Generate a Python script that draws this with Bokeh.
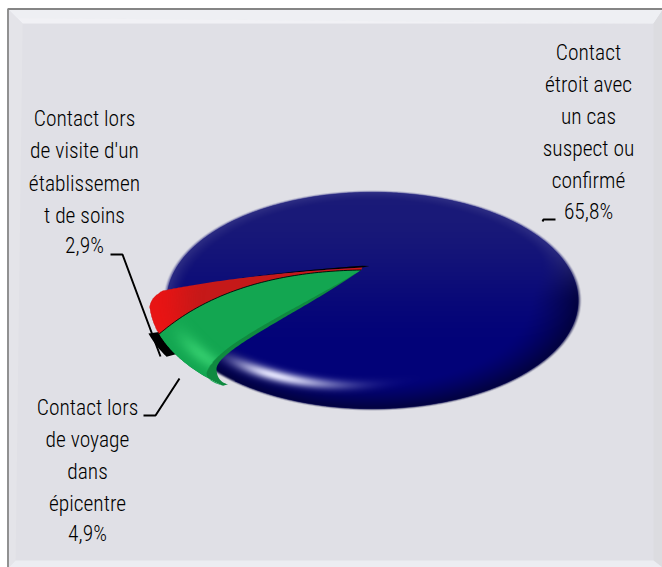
import numpy as np
from bokeh.plotting import figure
from bokeh.models import Range1d
from bokeh.core.properties import value
from bokeh.embed import file_html
from bokeh.resources import INLINE

# ---- data ----
label_close = ["Contact", "étroit avec", "un cas", "suspect ou", "confirmé"]
label_visit = ["Contact lors", "de visite d'un", "établissemen", "t de soins"]
label_travel = ["Contact lors", "de voyage", "dans", "épicentre"]
pct_close, pct_visit, pct_travel = 65.8, 2.9, 4.9
# apparent shares of the rim, as drawn in the distorted 3D view (percent)
rim_share_red = 6.1
rim_share_green = 8.6
rim_share_black = 2.9

PAGE_W, PAGE_H = 662, 567
FONT = "Roboto Condensed Light"
FS = "21.5px"


def Y(y):
    return PAGE_H - np.asarray(y, dtype=float)


p = figure(width=PAGE_W, height=PAGE_H, output_backend="svg", toolbar_location=None,
           x_range=Range1d(0, PAGE_W), y_range=Range1d(0, PAGE_H), min_border=0,
           background_fill_color="#ffffff", border_fill_color="#ffffff")
p.axis.visible = False
p.grid.visible = False
p.outline_line_color = None


def poly(pts, **kw):
    pts = np.asarray(pts, dtype=float)
    p.patch(pts[:, 0], Y(pts[:, 1]), line_color=kw.pop("line_color", None), **kw)


def line(pts, **kw):
    pts = np.asarray(pts, dtype=float)
    p.line(pts[:, 0], Y(pts[:, 1]), **kw)


# ---- chart frame with bevel ----
L, T, R, B = 8.5, 9.5, 662, 567
poly([(L, T), (R, T), (R, B), (L, B)], fill_color="#e0e0e6")
poly([(L, T), (R, T), (653, 23), (22, 23)], fill_color="#f1f1f5")
poly([(L, T), (L + 5, T + 8), (653, 23), (R, T)], fill_color="#ecedf1", fill_alpha=0.5)
poly([(L, T), (22, 23), (15, 560), (L, B)], fill_color="#e4e4e9")
poly([(R, T), (653, 23), (653, 560), (R, B)], fill_color="#dcdce0")
poly([(L, B), (15, 560), (653, 560), (R, B)], fill_color="#ecedf2")
line([(7.5, B), (7.5, 8.5), (R, 8.5)], line_color="#858585", line_width=1.8)

# ---- pie geometry ----
CX, CY = 372.0, 300.0
BA, BB = 209.0, 110.0      # blue disc
EA, EB = 223.0, 115.0      # exploded rim
APEX = np.array([362.0, 267.0])
T_START = 185.0
T_RG = T_START - rim_share_red * 3.6
T_END = T_RG - rim_share_green * 3.6
T_BLK = T_RG - rim_share_black * 3.6


def rim(t, s=1.0):
    t = np.atleast_1d(np.asarray(t, dtype=float))
    q = s * (1 - 0.055 * (np.clip(t - 176, 0, None) / 9) ** 2)
    r = np.radians(t)
    return np.column_stack([CX + q * EA * np.cos(r), CY + q * EB * np.sin(r)])


def quad(a, c, b, n=60):
    u = np.linspace(0, 1, n)[:, None]
    a, b, c = map(np.asarray, (a, b, c))
    return (1 - u) ** 2 * a + 2 * u * (1 - u) * c + u ** 2 * b


def cubic(a, c1, c2, b, n=80):
    u = np.linspace(0, 1, n)[:, None]
    a, b, c1, c2 = map(np.asarray, (a, b, c1, c2))
    return (1 - u) ** 3 * a + 3 * u * (1 - u) ** 2 * c1 + 3 * u ** 2 * (1 - u) * c2 + u ** 3 * b


red_top = quad(APEX, APEX + (-122, 7), rim(T_START)[0])
gr_apex = APEX + (-1.5, 2.5)
rg_edge = quad(gr_apex, gr_apex + (-130, 2), rim(T_RG)[0])

# blue slice: the long way around
ts = np.linspace(T_END, T_START - 360, 400)
ra = np.radians(ts)
blue_rim = np.column_stack([CX + 0.985 * BA * np.cos(ra), CY + 0.985 * BB * np.sin(ra)])
poly(np.vstack([APEX[None], blue_rim]), fill_color="#10107a")

# blue shading (per pixel)
x0, x1, y0, y1 = 140, 600, 180, 425
xs = np.arange(x0, x1) + 0.5
ys = np.arange(y1 - 1, y0 - 1, -1) + 0.5
GX, GY = np.meshgrid(xs, ys)
U, V = (GX - CX) / BA, (GY - CY) / BB
RR = np.hypot(U, V)
TH = np.degrees(np.arctan2(V, U)) % 360


def sstep(a, b, v):
    w = np.clip((v - a) / (b - a), 0, 1)
    return w * w * (3 - 2 * w)


vv = np.clip((GY - 205) / 150, 0, 1)
w0 = sstep(0, 1, vv)
centre = [26 + (2 - 26) * w0, 26 + (2 - 26) * w0, 120 + (120 - 120) * w0]
sy = V / np.maximum(RR, 1e-6)
w1 = sstep(-0.35, 0.3, sy + 0.25 * U / np.maximum(RR, 1e-6))
edge = [52 + (2 - 52) * w1, 52 + (2 - 52) * w1, 135 + (58 - 135) * w1]
# the edge band is thin along the top and wide along the bottom
e_start = 0.91 - 0.15 * w1
ee = np.clip((RR - e_start) / (1.0 - e_start), 0, 1) ** 1.3
col = [c + (d - c) * ee for c, d in zip(centre, edge)]
r0 = 0.80 + (TH - 110) * 0.0018
ang = np.where(TH > 125, np.exp(-((TH - 125) / 15) ** 2), np.exp(-((TH - 125) / 23) ** 2))
hl = 0.97 * np.exp(-((RR - r0) / 0.05) ** 2) * ang
col = [c + (w - c) * hl for c, w in zip(col, (230, 230, 255))]
alpha = np.clip((1 - RR) * BB / 2.2, 0, 1)


def to_rgba(cols, a):
    out = np.zeros(a.shape + (4,), dtype=np.uint8)
    for i in range(3):
        out[..., i] = np.clip(cols[i], 0, 255).astype(np.uint8)
    out[..., 3] = np.clip(a * 255, 0, 255).astype(np.uint8)
    return out.view(dtype=np.uint32).reshape(a.shape)


p.image_rgba(image=[to_rgba(col, alpha)], x=x0, y=float(Y(y1)), dw=x1 - x0, dh=y1 - y0)

# thin black sliver along the top of the red slice
u_n = 34
sl = red_top[:u_n]
thick = np.linspace(1.8, 0.0, u_n)
poly(np.vstack([APEX + (7, -1.5), sl - np.column_stack([np.zeros(u_n), thick]), sl[::-1]]),
     fill_color="#000000")

# red slice
t_red = np.linspace(T_START, T_RG, 60)
red_poly = np.vstack([red_top, rim(t_red), rg_edge[::-1]])
poly(red_poly, fill_color="#c51919")

# black slice, mostly hidden behind the green one
tb = np.linspace(T_RG + 1, T_BLK - 0.5, 20)
poly(np.vstack([rim(tb, 1.045), rim(tb[::-1], 0.97)]), fill_color="#000000")

# green slice: dark inner bevel, then face
g_end_light = np.array([206.0, 373.0])
g_end_dark = np.array([216.0, 368.0])
dark_edge = cubic(gr_apex, gr_apex + (-56, 40), g_end_dark + (2, -20), g_end_dark)
light_edge = cubic(gr_apex, gr_apex + (-61, 38), g_end_light + (6, -28), g_end_light)
t_g = np.linspace(T_END, T_RG, 50)
tip = rim(T_END)[0] + (5, -1.5)
hook = quad(g_end_dark, g_end_dark + (0, 13), tip, 15)
poly(np.vstack([dark_edge, hook, rim(t_g), rg_edge[::-1]]), fill_color="#0f8a40")
hook2 = quad(g_end_light, g_end_light + (1, 8), rim(T_END + 0.5)[0], 15)
green_poly = np.vstack([light_edge, hook2, rim(t_g), rg_edge[::-1]])
poly(green_poly, fill_color="#13a651")


def inside(pts):
    px, py = pts[:, 0], pts[:, 1]
    px2, py2 = np.roll(px, -1), np.roll(py, -1)
    res = np.zeros(GX.shape, dtype=bool)
    for a, b, c, d in zip(px, py, px2, py2):
        if b == d:
            continue
        cond = (b > GY) != (d > GY)
        res ^= cond & (GX < (c - a) * (GY - b) / (d - b) + a)
    return res


# red and green face shading
RE = np.hypot((GX - CX) / EA, (GY - CY) / EB)
TE = np.degrees(np.arctan2((GY - CY) / EB, (GX - CX) / EA)) % 360
m_red = inside(red_poly)
a_red = sstep(0.74, 0.98, RE) * m_red
m_green = inside(green_poly)
a_green = 0.9 * np.exp(-((RE - 0.9) / 0.05) ** 2) * np.exp(-((TE - 148) / 13) ** 2) * m_green
shade_c = [np.where(m_red, cr, cg).astype(float) for cr, cg in zip((232, 20, 20), (52, 205, 110))]
p.image_rgba(image=[to_rgba(shade_c, a_red + a_green)], x=x0, y=float(Y(y1)), dw=x1 - x0, dh=y1 - y0)

line(rg_edge, line_color="#000000", line_width=1.0, line_alpha=0.85)

# ---- leader lines ----
LW = 2.0
line([(110, 254), (122, 254), (160, 356)], line_color="#000000", line_width=LW)
line([(143, 415), (155, 415), (179, 378)], line_color="#000000", line_width=LW)
line([(542, 221), (543, 219), (555, 219)], line_color="#000000", line_width=LW)


# ---- labels ----
def fmt(v):
    return f"{v:.1f}%".replace(".", ",")


def label(lines, pct, x, ys_):
    rows = list(lines) + [fmt(pct)]
    p.text(x=[x] * len(rows), y=list(Y(ys_)), text=rows, text_font=value(FONT),
           text_font_size=FS, text_align="center", text_baseline="middle", text_color="#000000")


label(label_close, pct_close, 588, [52, 84, 116, 148, 180, 211])
label(label_visit, pct_visit, 84, [118, 150, 183, 215, 245])
label(label_travel, pct_travel, 87, [407, 439, 471, 503, 533])

open("out.html", "w").write(file_html(p, INLINE))
